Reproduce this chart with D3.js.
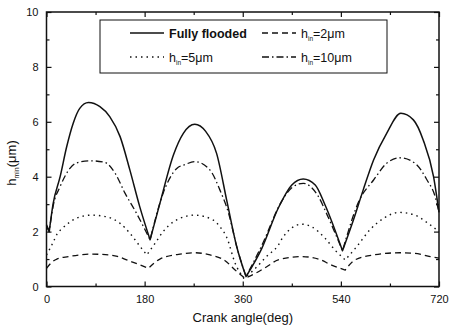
<!DOCTYPE html>
<html>
<head>
<meta charset="utf-8">
<script src="https://cdn.jsdelivr.net/npm/d3@7"></script>
<style>
  body { margin: 0; background: #fff; }
  svg { display: block; font-family: "Liberation Sans", Arial, sans-serif; }
</style>
</head>
<body>
<svg id="chart" width="450" height="330"></svg>
<script>
// data (crank angle in deg, h_min in um)
var fullAngles = [0, 5, 12, 25, 37, 49, 61, 77, 98, 116, 135, 153, 171, 190, 208, 233, 251, 272, 292, 312, 331, 349, 366, 395, 425, 450, 471, 493, 511, 543, 563, 581, 600, 624, 650, 673, 691, 710, 720];
var fullValues = [2.25, 2.0, 3.0, 4.0, 5.09, 5.95, 6.49, 6.70, 6.55, 6.19, 5.46, 4.24, 2.91, 1.70, 3.03, 4.8, 5.58, 5.91, 5.65, 4.85, 3.1, 1.45, 0.36, 1.39, 2.85, 3.70, 3.92, 3.70, 2.97, 1.30, 2.42, 3.52, 4.61, 5.58, 6.31, 6.07, 5.34, 4.0, 2.7];

var h10Angles = [0, 5, 12, 25, 43, 55, 80, 107, 126, 144, 165, 190, 214, 239, 255, 272, 300, 318, 334, 349, 366, 395, 431, 450, 471, 499, 515, 543, 574, 600, 624, 648, 676, 698, 713, 720];
var h10Values = [2.2, 2.0, 2.91, 3.64, 4.3, 4.5, 4.58, 4.52, 4.12, 3.4, 2.67, 1.70, 3.4, 4.3, 4.45, 4.55, 4.24, 3.52, 2.67, 1.45, 0.36, 1.5, 3.09, 3.6, 3.76, 3.27, 2.6, 1.30, 3.15, 3.88, 4.49, 4.69, 4.49, 3.88, 3.27, 2.7];

var h5Angles = [0, 6, 12, 19, 28, 43, 62, 83, 110, 135, 153, 172, 184, 199, 214, 233, 272, 306, 318, 331, 346, 362, 380, 404, 425, 434, 468, 486, 511, 529, 548, 569, 593, 618, 647, 676, 700, 720];
var h5Values = [1.15, 1.37, 1.6, 1.9, 2.1, 2.35, 2.54, 2.60, 2.54, 2.30, 1.94, 1.45, 1.15, 1.57, 2.0, 2.36, 2.6, 2.42, 2.18, 1.77, 0.85, 0.3, 0.6, 1.1, 1.5, 1.8, 2.27, 2.18, 1.76, 1.33, 0.97, 1.45, 2.06, 2.48, 2.70, 2.6, 2.3, 2.0];

var h2Angles = [0, 8, 19, 40, 60, 80, 100, 130, 147, 170, 187, 208, 245, 272, 300, 327, 346, 364, 385, 404, 425, 468, 499, 523, 548, 566, 600, 648, 676, 704, 720];
var h2Values = [0.66, 0.85, 1.0, 1.09, 1.15, 1.18, 1.17, 1.1, 0.97, 0.8, 0.66, 1.0, 1.18, 1.23, 1.15, 0.95, 0.6, 0.3, 0.5, 0.72, 0.97, 1.09, 1.0, 0.78, 0.60, 0.97, 1.15, 1.23, 1.21, 1.09, 1.03];

var xTicks = [0, 180, 360, 540, 720];
var xMinor = [90, 270, 450, 630];
var yTicks = [0, 2, 4, 6, 8, 10];
var yMinor = [1, 3, 5, 7, 9];

var ink = "#111";
var svg = d3.select("#chart");
var margin = { top: 12, right: 11, bottom: 43.5, left: 46.5 };
var w = 450 - margin.left - margin.right;
var h = 330 - margin.top - margin.bottom;

var x = d3.scaleLinear().domain([0, 720]).range([0, w]);
var y = d3.scaleLinear().domain([0, 10]).range([h, 0]);

var g = svg.append("g").attr("transform", "translate(" + margin.left + "," + margin.top + ")");

// series
var series = [
  { angles: fullAngles, values: fullValues, dash: null, width: 1.5 },
  { angles: h10Angles, values: h10Values, dash: "7,3,1.5,3", width: 1.3 },
  { angles: h5Angles, values: h5Values, dash: "1.5,4", width: 1.4 },
  { angles: h2Angles, values: h2Values, dash: "6,4", width: 1.3 }
];

var line = d3.line()
  .x(function(d) { return x(d[0]); })
  .y(function(d) { return y(d[1]); })
  .curve(d3.curveMonotoneX);

// split each curve at its local minima so the valleys stay sharp
function pieces(pts) {
  var out = [], cur = [pts[0]];
  for (var i = 1; i < pts.length; i++) {
    cur.push(pts[i]);
    if (i < pts.length - 1 && pts[i][1] < pts[i - 1][1] && pts[i][1] < pts[i + 1][1]) {
      out.push(cur);
      cur = [pts[i]];
    }
  }
  out.push(cur);
  return out;
}

series.forEach(function(s) {
  var pts = s.angles.map(function(a, i) { return [a, s.values[i]]; });
  var d = pieces(pts).map(function(p, k) {
    var str = line(p);
    return k === 0 ? str : str.replace(/^M[^CL]*/, "");
  }).join("");
  g.append("path")
    .attr("d", d)
    .attr("fill", "none")
    .attr("stroke", ink)
    .attr("stroke-width", s.width)
    .attr("stroke-linejoin", "round")
    .attr("stroke-dasharray", s.dash);
});

// axes, ticks inside on all four sides
var major = 5, minor = 3;
g.append("g").attr("transform", "translate(0," + h + ")")
  .call(d3.axisBottom(x).tickValues(xTicks).tickSizeInner(-major).tickSizeOuter(0).tickPadding(9));
g.append("g").attr("transform", "translate(0," + h + ")")
  .call(d3.axisBottom(x).tickValues(xMinor).tickSizeInner(-minor).tickSizeOuter(0).tickFormat(""));
g.append("g")
  .call(d3.axisTop(x).tickValues(xTicks).tickSizeInner(-major).tickSizeOuter(0).tickFormat(""));
g.append("g")
  .call(d3.axisTop(x).tickValues(xMinor).tickSizeInner(-minor).tickSizeOuter(0).tickFormat(""));
g.append("g")
  .call(d3.axisLeft(y).tickValues(yTicks).tickSizeInner(-major).tickSizeOuter(0).tickPadding(8));
g.append("g")
  .call(d3.axisLeft(y).tickValues(yMinor).tickSizeInner(-minor).tickSizeOuter(0).tickFormat(""));
g.append("g").attr("transform", "translate(" + w + ",0)")
  .call(d3.axisRight(y).tickValues(yTicks).tickSizeInner(-major).tickSizeOuter(0).tickFormat(""));
g.append("g").attr("transform", "translate(" + w + ",0)")
  .call(d3.axisRight(y).tickValues(yMinor).tickSizeInner(-minor).tickSizeOuter(0).tickFormat(""));

g.selectAll(".domain").remove();
g.selectAll(".tick line").attr("stroke", ink).attr("stroke-width", 1.2);
g.selectAll(".tick text").attr("fill", ink).style("font-size", "11px")
  .style("font-family", "'Liberation Sans', Arial, sans-serif");

g.append("rect")
  .attr("width", w).attr("height", h)
  .attr("fill", "none").attr("stroke", ink).attr("stroke-width", 1.5);

// axis titles
svg.append("text")
  .attr("x", margin.left + w / 2).attr("y", 321.5)
  .attr("text-anchor", "middle")
  .style("font-size", "13px").attr("fill", ink)
  .text("Crank angle(deg)");

var yl = svg.append("text")
  .attr("transform", "translate(15.5,163) rotate(-90)")
  .attr("text-anchor", "middle")
  .style("font-size", "13px").attr("fill", ink);
yl.append("tspan").text("h");
yl.append("tspan").attr("dy", 3).style("font-size", "7px").text("min");
yl.append("tspan").attr("dy", -3).text("(μm)");

// legend
var lg = svg.append("g");
lg.append("rect")
  .attr("x", 100).attr("y", 20).attr("width", 287).attr("height", 53)
  .attr("fill", "#fff").attr("stroke", ink).attr("stroke-width", 1);

var legendItems = [
  { x: 130, y: 33, s: series[0], label: "Fully flooded", sub: null },
  { x: 262, y: 33, s: series[3], label: "h", sub: "=2μm" },
  { x: 130, y: 57, s: series[2], label: "h", sub: "=5μm" },
  { x: 262, y: 57, s: series[1], label: "h", sub: "=10μm" }
];
legendItems.forEach(function(it) {
  lg.append("line")
    .attr("x1", it.x).attr("x2", it.x + 34)
    .attr("y1", it.y).attr("y2", it.y)
    .attr("stroke", ink).attr("stroke-width", it.s.width)
    .attr("stroke-dasharray", it.s.dash);
  var t = lg.append("text")
    .attr("x", it.x + 39).attr("y", it.y + 4.5)
    .style("font-size", "12.5px").attr("fill", ink)
    .style("font-weight", it.sub ? "normal" : "bold");
  t.append("tspan").text(it.label);
  if (it.sub) {
    t.append("tspan").attr("dy", 3).style("font-size", "6.5px").text("in");
    t.append("tspan").attr("dy", -3).text(it.sub);
  }
});
</script>
</body>
</html>
